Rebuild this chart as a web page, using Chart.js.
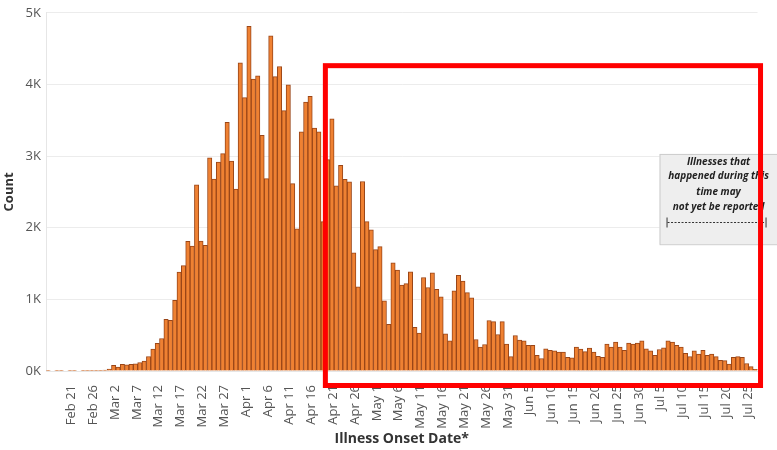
<!DOCTYPE html>
<html>
<head>
<meta charset="utf-8">
<script src="https://cdn.jsdelivr.net/npm/chart.js@4.4.1/dist/chart.umd.min.js"></script>
<style>
html,body{margin:0;padding:0;background:#fff;}
#wrap{width:777px;height:450px;position:relative;}
</style>
</head>
<body>
<div id="wrap"><canvas id="c"></canvas></div>
<script>
// Daily counts by illness onset date (2020)
const monthNames = ['Feb', 'Mar', 'Apr', 'May', 'Jun', 'Jul'];
const monthFirstDay = [15, 1, 1, 1, 1, 1];
const febCounts = [5, 0, 5, 5, 0, 5, 5, 0, 5, 5, 5, 5, 5, 12, 28];
const marCounts = [78, 55, 92, 87, 92, 100, 119, 138, 202, 307, 385, 454, 720, 706, 985,
  1380, 1470, 1810, 1745, 2600, 1815, 1755, 2975, 2680, 2915, 3035, 3470, 2930, 2540, 4300, 3815];
const aprCounts = [4810, 4075, 4120, 3290, 2685, 4680, 4110, 4250, 3635, 3995,
  2615, 1985, 3340, 3755, 3835, 3390, 3340, 2085, 2950, 3520,
  2585, 2870, 2675, 2640, 1650, 1175, 2645, 2085, 1970, 1695];
const mayCounts = [1735, 980, 650, 1510, 1410, 1200, 1220, 1385, 610, 530,
  1305, 1165, 1370, 1140, 1035, 520, 420, 1120, 1335, 1255,
  1095, 1020, 440, 335, 370, 705, 690, 510, 690, 375, 200];
const junCounts = [495, 430, 420, 360, 360, 220, 175, 310, 290, 280,
  265, 265, 190, 185, 335, 305, 270, 320, 265, 205,
  190, 375, 335, 405, 335, 290, 390, 375, 390, 420];
const julCounts = [310, 280, 220, 300, 325, 420, 405, 360, 335, 245,
  200, 280, 235, 290, 220, 235, 200, 150, 145, 95,
  190, 200, 190, 105, 60, 25];
const tickLabels = ['Feb 21', 'Feb 26', 'Mar 2', 'Mar 7', 'Mar 12', 'Mar 17', 'Mar 22', 'Mar 27',
  'Apr 1', 'Apr 6', 'Apr 11', 'Apr 16', 'Apr 21', 'Apr 26', 'May 1', 'May 6', 'May 11', 'May 16',
  'May 21', 'May 26', 'May 31', 'Jun 5', 'Jun 10', 'Jun 15', 'Jun 20', 'Jun 25', 'Jun 30',
  'Jul 5', 'Jul 10', 'Jul 15', 'Jul 20', 'Jul 25'];
const yTickValues = [0, 1000, 2000, 3000, 4000, 5000];
const noteLines = ['Illnesses that', 'happened during this', 'time may', 'not yet be reported'];

const monthCounts = [febCounts, marCounts, aprCounts, mayCounts, junCounts, julCounts];
const categories = [];
const counts = [];
monthCounts.forEach((arr, m) => {
  arr.forEach((v, i) => {
    categories.push(monthNames[m] + ' ' + (monthFirstDay[m] + i));
    counts.push(v);
  });
});
const tickSet = new Set(tickLabels);

const overlay = {
  id: 'overlay',
  afterDraw(chart) {
    const ctx = chart.ctx;
    const x = chart.scales.x, y = chart.scales.y, a = chart.chartArea;
    const half = (x.getPixelForValue(1) - x.getPixelForValue(0)) / 2;
    // note box
    const bl = a.right - 98, bt = y.getPixelForValue(3030), bb = y.getPixelForValue(1770);
    ctx.save();
    ctx.fillStyle = '#eeeeee';
    ctx.strokeStyle = '#cccccc';
    ctx.lineWidth = 1;
    ctx.fillRect(bl, bt, 200, bb - bt);
    ctx.strokeRect(bl + 0.5, bt + 0.5, 200, bb - bt);
    ctx.fillStyle = '#222';
    ctx.font = 'italic bold 10px "Open Sans"';
    ctx.textAlign = 'center';
    ctx.textBaseline = 'middle';
    const cx = a.right - 39;
    const lineY = [8, 22, 38, 53];
    noteLines.forEach((t, i) => ctx.fillText(t, cx, bt + lineY[i]));
    // dashed range line
    const dy = Math.round(bt + 68) + 0.5;
    ctx.strokeStyle = '#333';
    ctx.lineWidth = 1;
    ctx.beginPath();
    ctx.moveTo(bl + 7.5, dy - 5); ctx.lineTo(bl + 7.5, dy + 5);
    ctx.moveTo(a.right + 8.5, dy - 5); ctx.lineTo(a.right + 8.5, dy + 5);
    ctx.stroke();
    ctx.setLineDash([2, 1.5]);
    ctx.beginPath();
    ctx.moveTo(bl + 8, dy); ctx.lineTo(a.right + 8, dy);
    ctx.stroke();
    ctx.setLineDash([]);
    // red highlight rectangle
    const idx = categories.indexOf('Apr 18');
    const rl = x.getPixelForValue(idx) + half;
    const rt = y.getPixelForValue(4262);
    const rr = a.right + 3;
    const rb = a.bottom + 14.5;
    ctx.strokeStyle = '#ff0000';
    ctx.lineWidth = 5;
    ctx.strokeRect(rl, rt, rr - rl, rb - rt);
    ctx.restore();
  }
};

new Chart(document.getElementById('c'), {
  type: 'bar',
  data: {
    labels: categories,
    datasets: [{
      data: counts,
      backgroundColor: '#ef8132',
      borderColor: '#9a4618',
      borderWidth: 1,
      barPercentage: 1,
      categoryPercentage: 1
    }]
  },
  options: {
    responsive: true,
    maintainAspectRatio: false,
    animation: false,
    layout: { padding: { top: 9, right: 16, left: 0, bottom: 0 } },
    plugins: { legend: { display: false }, tooltip: { enabled: false } },
    scales: {
      x: {
        grid: { display: false },
        border: { display: true, color: '#e6e6e6' },
        ticks: {
          autoSkip: false,
          maxRotation: 90,
          minRotation: 90,
          padding: 6,
          labelOffset: -3,
          color: '#555',
          font: { family: '"Open Sans"', size: 13 },
          callback: function (v, i) { const l = categories[i]; return tickSet.has(l) ? l : ''; }
        },
        title: {
          display: true,
          text: 'Illness Onset Date*',
          color: '#333',
          font: { family: '"Open Sans"', size: 14, weight: 'bold' },
          padding: { top: 2, bottom: 3 }
        },
        afterFit: s => { s.height = 79; }
      },
      y: {
        min: 0,
        max: 5000,
        afterBuildTicks: s => { s.ticks = yTickValues.map(v => ({ value: v })); },
        grid: { color: '#ececec', drawTicks: false },
        border: { display: true, color: '#e6e6e6' },
        ticks: {
          padding: 5,
          color: '#555',
          font: { family: '"Open Sans"', size: 13 },
          callback: v => (v / 1000) + 'K'
        },
        title: {
          display: true,
          text: 'Count',
          color: '#333',
          font: { family: '"Open Sans"', size: 13, weight: 'bold' },
          padding: { top: 1, bottom: 0 }
        },
        afterFit: s => { s.width = 46; }
      }
    }
  },
  plugins: [overlay]
});
</script>
</body>
</html>
